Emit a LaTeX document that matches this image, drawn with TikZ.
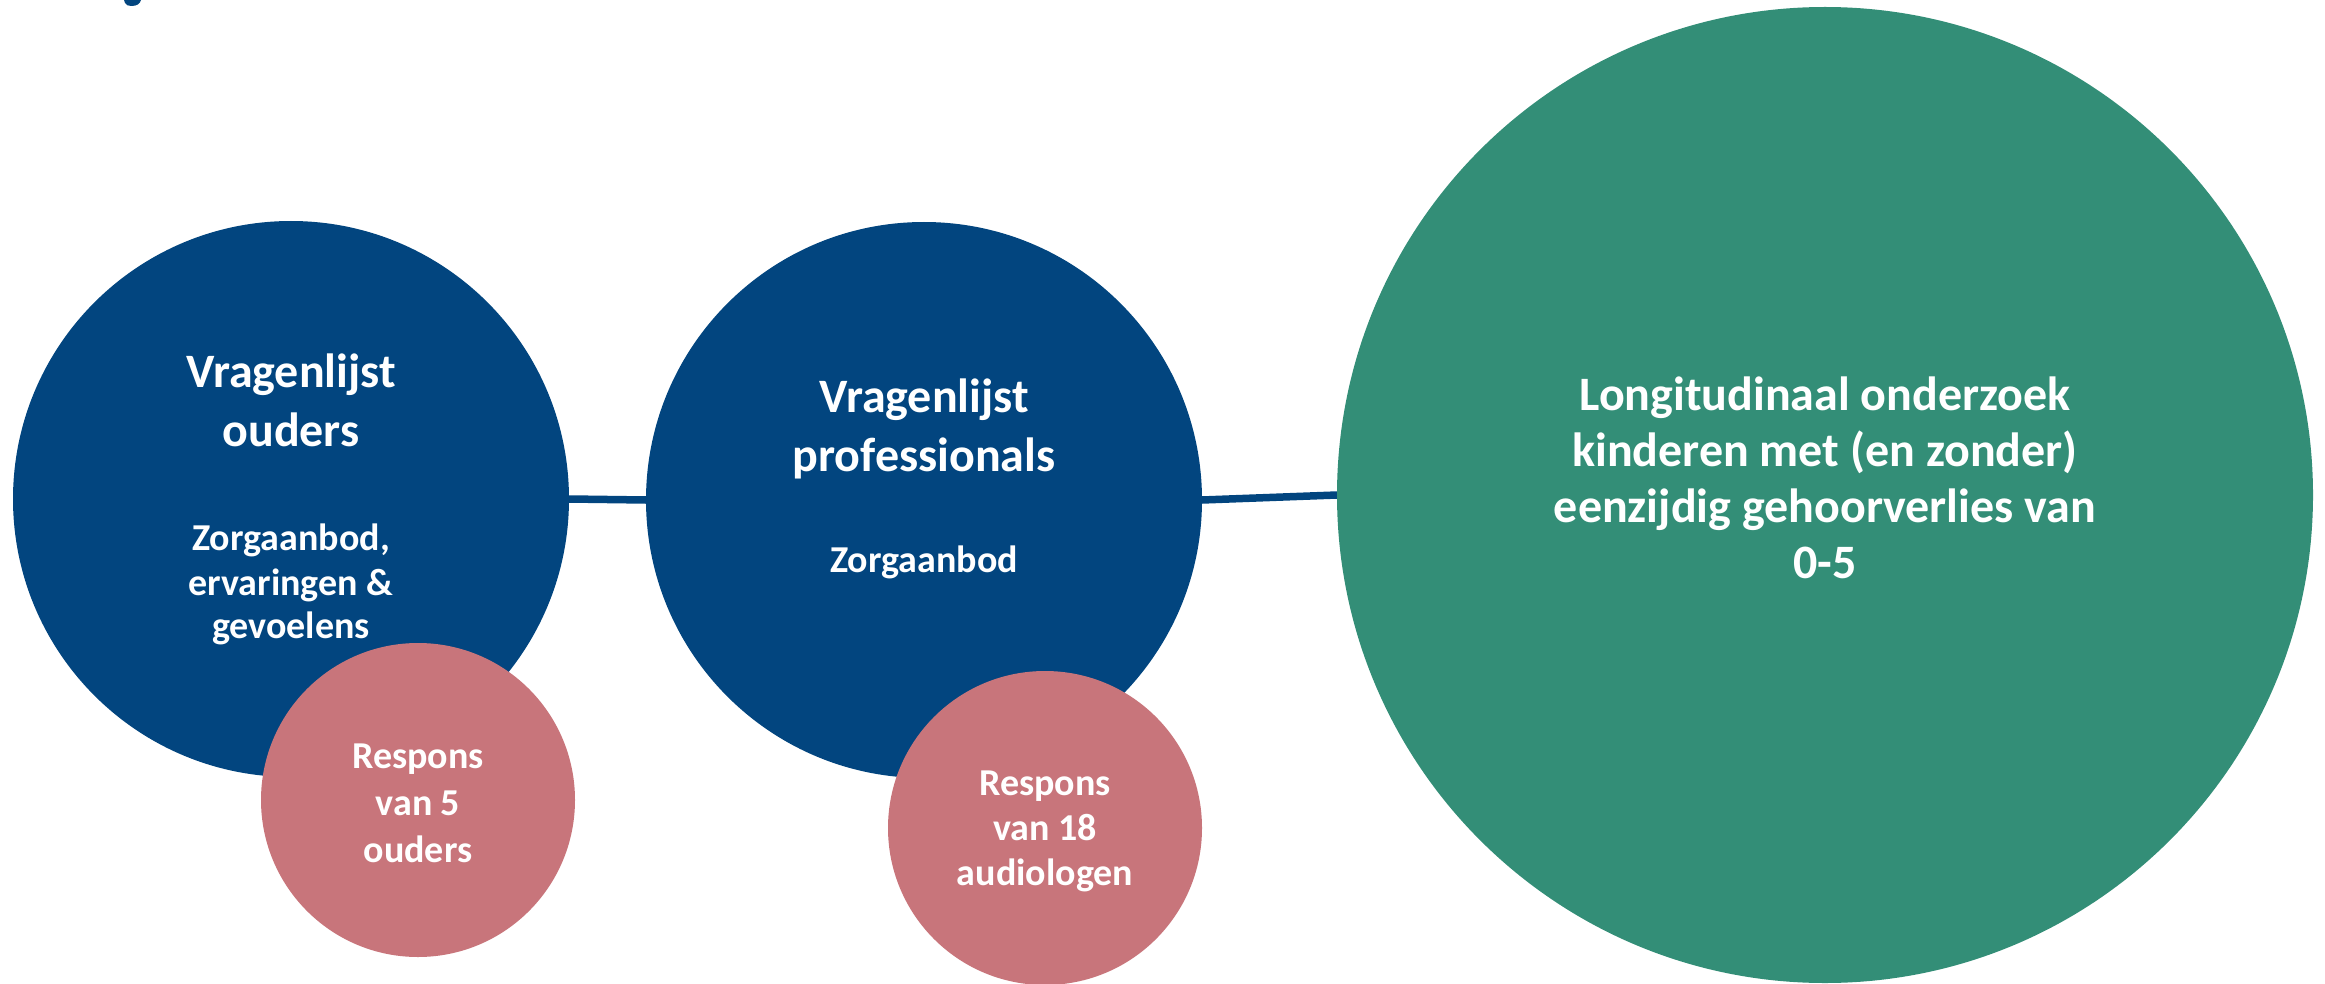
\documentclass[tikz,border=0pt]{standalone}
\usepackage{fontspec}
\setmainfont{Carlito}
\usetikzlibrary{backgrounds}
\definecolor{cblue}{HTML}{02457F}
\definecolor{cgreen}{HTML}{338E77}
\definecolor{cpink}{HTML}{C8757B}
\begin{document}
\begin{tikzpicture}[x=1pt,y=-1pt,
  disc/.style={circle,inner sep=0pt,outer sep=0pt,draw=none},
  bluedisc/.style={disc,fill=cblue,minimum size=556pt},
  greendisc/.style={disc,fill=cgreen,minimum size=976pt},
  pinkdisc/.style={disc,fill=cpink,minimum size=314pt},
  link/.style={draw=cblue,line width=7.5pt},
  bigtxt/.style={text=white,inner sep=0pt,anchor=base,
    font=\fontsize{48}{56}\selectfont\bfseries},
  smalltxt/.style={text=white,inner sep=0pt,anchor=base,
    font=\fontsize{38}{45}\selectfont\bfseries}]
\useasboundingbox (0,0) rectangle (2325,984);
% fragment of cut-off title
\fill[cblue] (124,0) -- (141,0) .. controls (140,4) and (137,6) .. (131,6)
  .. controls (128,6) and (126,5) .. (125,3) -- cycle;
% circles
\node[bluedisc] (c1) at (291,499) {};
\node[bluedisc] (c2) at (924,500) {};
\node[greendisc] (g) at (1825,495) {};
\node[pinkdisc] (p1) at (418,800) {};
\node[pinkdisc] (p2) at (1045,828) {};
% connectors behind circles
\begin{scope}[on background layer]
\path[link] (c1.east) -- (c2.west);
\path[link] (c2.east) -- (g.west);
\end{scope}
% texts, circle 1
\node[bigtxt] (t1a) at (291,387) {Vragenlijst};
\node[bigtxt] (t1b) at (291,446) {ouders};
\node[smalltxt] (s1a) at (291,550) {Zorgaanbod,};
\node[smalltxt] (s1b) at (291,595) {ervaringen \&};
\node[smalltxt] (s1c) at (291,638) {gevoelens};
% texts, circle 2
\node[bigtxt] (t2a) at (924,412) {Vragenlijst};
\node[bigtxt] (t2b) at (924,471) {professionals};
\node[smalltxt] (s2a) at (924,572) {Zorgaanbod};
% texts, green circle
\node[bigtxt] (tga) at (1825,410) {Longitudinaal onderzoek};
\node[bigtxt] (tgb) at (1825,466) {kinderen met (en zonder)};
\node[bigtxt] (tgc) at (1825,522) {eenzijdig gehoorverlies van};
\node[bigtxt] (tgd) at (1825,578) {0-5};
% texts, pink circles
\node[smalltxt] (tp1a) at (418,768) {Respons};
\node[smalltxt] (tp1b) at (418,815) {van 5};
\node[smalltxt] (tp1c) at (418,862) {ouders};
\node[smalltxt] (tp2a) at (1045,795) {Respons};
\node[smalltxt] (tp2b) at (1045,840) {van 18};
\node[smalltxt] (tp2c) at (1045,885) {audiologen};
\end{tikzpicture}
\end{document}
